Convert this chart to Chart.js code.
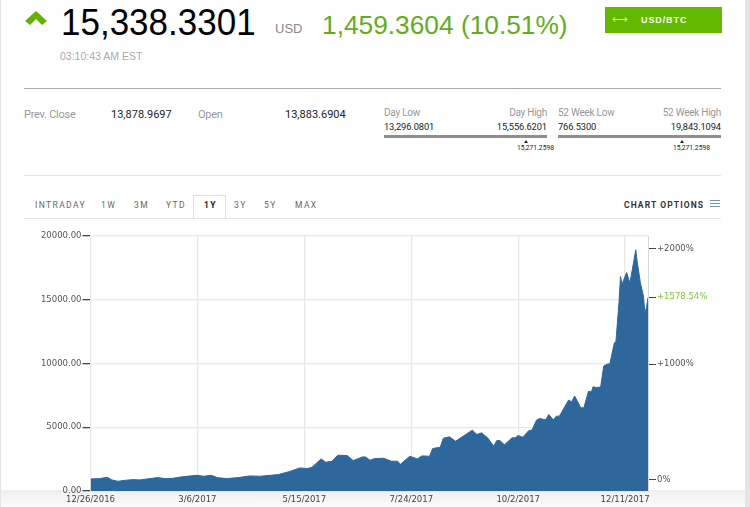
<!DOCTYPE html>
<html>
<head>
<meta charset="utf-8">
<title>USD/BTC</title>
<script src="https://cdn.jsdelivr.net/npm/chart.js@4/dist/chart.umd.min.js"></script>
<style>
  html, body { margin: 0; padding: 0; background: #fff; }
  body { width: 750px; height: 507px; position: relative; overflow: hidden; font-family: "Liberation Sans", sans-serif; }
  .t { position: absolute; white-space: nowrap; line-height: 1; }
  .r { text-align: right; }
  .box { position: absolute; }
  .lbl { font-family: "Roboto", sans-serif; color: #999; font-size: 11px; letter-spacing: -0.25px; }
  .val { font-family: "Roboto", sans-serif; color: #222; font-size: 11px; }
  .sm { font-size: 9.3px; letter-spacing: -0.1px; }
  .tab { font-family: "Roboto", sans-serif; color: #666; font-size: 8.5px; letter-spacing: 1.4px; top: 201px; }
  canvas { position: absolute; left: 0; top: 225px; }
</style>
</head>
<body>
<div class="box" style="left:0;top:0;width:1px;height:507px;background:#e5e5e5"></div>
<div class="box" style="left:745px;top:0;width:5px;height:507px;background:#e5e5e5"></div>
<div class="box" style="left:1px;top:490px;width:744px;height:17px;background:linear-gradient(#efefef,#fbfbfb)"></div>

<svg class="box" style="left:25px;top:11px" width="22" height="15"><path d="M0 10 L11 0 L22 10 L17 14 L11 8 L5 14 Z" fill="#62b300"/></svg>
<div class="t" style="left:61px;top:3px;font-size:35px;color:#000;transform:scaleY(1.06);transform-origin:left top">15,338.3301</div>
<div class="t" style="left:275px;top:22px;font-size:13px;color:#888">USD</div>
<div class="t" style="left:322px;top:12px;font-size:26.3px;color:#62ad1c">1,459.3604 (10.51%)</div>
<div class="box" style="left:605px;top:7px;width:117px;height:26px;background:#62b900"></div>
<div class="t" style="left:612px;top:14px;font-size:11px;color:#d8f0b8">⟷</div>
<div class="t" style="left:641px;top:15.5px;font-size:9px;font-weight:bold;letter-spacing:0.9px;color:#fff">USD/BTC</div>
<div class="t" style="left:60px;top:51px;font-size:10.5px;color:#aaa">03:10:43 AM EST</div>

<div class="box" style="left:24px;top:88px;width:697px;height:1px;background:#aaa"></div>
<div class="t lbl" style="left:24px;top:109px">Prev. Close</div>
<div class="t val" style="left:111px;top:109px">13,878.9697</div>
<div class="t lbl" style="left:198px;top:109px">Open</div>
<div class="t val" style="left:285px;top:109px">13,883.6904</div>

<div class="t lbl" style="left:384px;top:108px;font-size:10px">Day Low</div>
<div class="t lbl r" style="right:203px;top:108px;font-size:10px">Day High</div>
<div class="t val sm" style="left:384px;top:122px">13,296.0801</div>
<div class="t val sm r" style="right:203px;top:122px">15,556.6201</div>
<div class="box" style="left:384px;top:135px;width:163px;height:3px;background:#8f8f8f"></div>
<div class="box" style="left:524px;top:139.5px;border-left:2.5px solid transparent;border-right:2.5px solid transparent;border-bottom:3px solid #222"></div>
<div class="t val" style="left:517px;top:145px;font-size:6.7px">15,271.2598</div>

<div class="t lbl" style="left:558px;top:108px;font-size:10px">52 Week Low</div>
<div class="t lbl r" style="right:29px;top:108px;font-size:10px">52 Week High</div>
<div class="t val sm" style="left:558px;top:122px">766.5300</div>
<div class="t val sm r" style="right:29px;top:122px">19,843.1094</div>
<div class="box" style="left:558px;top:135px;width:163px;height:3px;background:#8f8f8f"></div>
<div class="box" style="left:680px;top:139.5px;border-left:2.5px solid transparent;border-right:2.5px solid transparent;border-bottom:3px solid #222"></div>
<div class="t val" style="left:673px;top:145px;font-size:6.7px">15,271.2598</div>

<div class="box" style="left:24px;top:175px;width:697px;height:1px;background:#e5e5e5"></div>
<div class="box" style="left:24px;top:218px;width:697px;height:1px;background:#e5e5e5"></div>
<div class="box" style="left:193px;top:195px;width:31px;height:23px;border:1px solid #e0e0e0;border-bottom:1px solid #fff;box-sizing:content-box"></div>
<div class="t tab" style="left:35px">INTRADAY</div>
<div class="t tab" style="left:101px">1W</div>
<div class="t tab" style="left:134px">3M</div>
<div class="t tab" style="left:166px">YTD</div>
<div class="t tab" style="left:204px;color:#222;font-weight:bold">1Y</div>
<div class="t tab" style="left:234px">3Y</div>
<div class="t tab" style="left:264px">5Y</div>
<div class="t tab" style="left:295px">MAX</div>
<div class="t tab" style="left:624px;color:#333;font-weight:bold;letter-spacing:1.1px">CHART OPTIONS</div>
<div class="box" style="left:710px;top:200px;width:10px;height:1px;background:#6f93bf"></div>
<div class="box" style="left:710px;top:203px;width:10px;height:1px;background:#6f93bf"></div>
<div class="box" style="left:710px;top:206px;width:10px;height:1px;background:#6f93bf"></div>

<canvas id="btcChart" width="750" height="282"></canvas>

<script>
// dias desde 12/26/2016 e preco
const dias = [0, 6, 11, 14, 18, 23, 28, 32, 39, 44, 49, 54, 61, 70, 74, 79, 83, 89, 97, 104, 111, 123, 131, 137,
  142, 145, 151, 154, 158, 162, 168, 172, 178, 180, 183, 186, 192, 197, 201, 203, 209, 214, 217, 222, 224, 229,
  231, 235, 239, 244, 250, 253, 256, 260, 264, 266, 268, 271, 276, 278, 280, 283, 287, 289, 292, 294, 298, 300,
  303, 305, 307, 313, 315, 317, 321, 323, 326, 328, 329, 331, 334, 336, 338, 340, 343, 344, 346, 347, 348, 351,
  353, 354, 357, 358, 360, 362, 363, 364, 365];
const precos = [946, 972, 1077, 867, 762, 841, 893, 867, 972, 1051, 972, 998, 1130, 1234, 1156, 1234, 1051, 972, 1051, 1182, 1156, 1287, 1549, 1811,
  1758, 1863, 2518, 2256, 2334, 2806, 2780, 2387, 2675, 2675, 2413, 2544, 2570, 2334, 2334, 2099, 2727, 2518, 2754, 2727, 3330, 3435,
  4142, 4247, 3906, 4299, 4771, 4430, 4561, 4168, 3513, 3959, 3959, 3618, 4168, 4168, 4352, 4220, 4745, 4771, 5557, 5688, 5583, 6003,
  5583, 5871, 5871, 7129, 6997, 7443, 6526, 6526, 7810, 7784, 8176, 8124, 8150, 9801, 9932, 9984, 11635, 11714, 14779, 16823, 16221, 17137,
  16351, 16875, 18919, 17923, 16351, 15303, 13992, 14384, 15170];

const diasTicks = [0, 70, 140, 210, 280, 350];
const datasTicks = ['12/26/2016', '3/6/2017', '5/15/2017', '7/24/2017', '10/2/2017', '12/11/2017'];
const precoTicks = [0, 5000, 10000, 15000, 20000];
const pctTicks = [0, 1000, 1578.54, 2000];
const pctAtual = 1578.54;

const fonteEixo = { family: 'DejaVu Sans', size: 8.5 };
const corGrade = '#e8e8e8';

const pontos = dias.map((d, i) => ({ x: d, y: precos[i] }));

const ctx = document.getElementById('btcChart').getContext('2d');
new Chart(ctx, {
  type: 'line',
  data: {
    datasets: [{
      data: pontos,
      borderColor: '#2f6a9f',
      borderWidth: 1,
      backgroundColor: '#2d679b',
      fill: 'origin',
      pointRadius: 0,
      tension: 0
    }]
  },
  options: {
    responsive: false,
    animation: false,
    layout: { padding: { top: 11 } },
    plugins: { legend: { display: false }, tooltip: { enabled: false } },
    scales: {
      x: {
        type: 'linear',
        min: 0,
        max: 365,
        afterBuildTicks: s => { s.ticks = diasTicks.map(v => ({ value: v })); },
        afterFit: s => { s.height = 16; },
        grid: { color: corGrade, lineWidth: 1.3, drawTicks: false },
        border: { color: corGrade },
        ticks: {
          autoSkip: false,
          maxRotation: 0,
          padding: 4,
          color: '#444',
          font: fonteEixo,
          callback: v => datasTicks[diasTicks.indexOf(v)]
        }
      },
      y: {
        position: 'left',
        min: 0,
        max: 20000,
        afterBuildTicks: s => { s.ticks = precoTicks.map(v => ({ value: v })); },
        afterFit: s => { s.width = 90.5; },
        grid: { color: corGrade, lineWidth: 1.3, tickColor: '#444', tickLength: 8 },
        border: { color: corGrade },
        ticks: {
          padding: 1,
          color: '#555',
          font: fonteEixo,
          callback: v => v.toFixed(2)
        }
      },
      y2: {
        position: 'right',
        min: -99,
        max: 2108,
        afterBuildTicks: s => { s.ticks = pctTicks.map(v => ({ value: v })); },
        afterFit: s => { s.width = 102; },
        grid: { drawOnChartArea: false, tickColor: '#444', tickLength: 8 },
        border: { color: '#d8d8d8' },
        ticks: {
          autoSkip: false,
          padding: 1,
          font: fonteEixo,
          color: c => c.tick.value === pctAtual ? '#7ccb3a' : '#555',
          callback: v => v === 0 ? '0%' : '+' + v + '%'
        }
      }
    }
  }
});
</script>
</body>
</html>
